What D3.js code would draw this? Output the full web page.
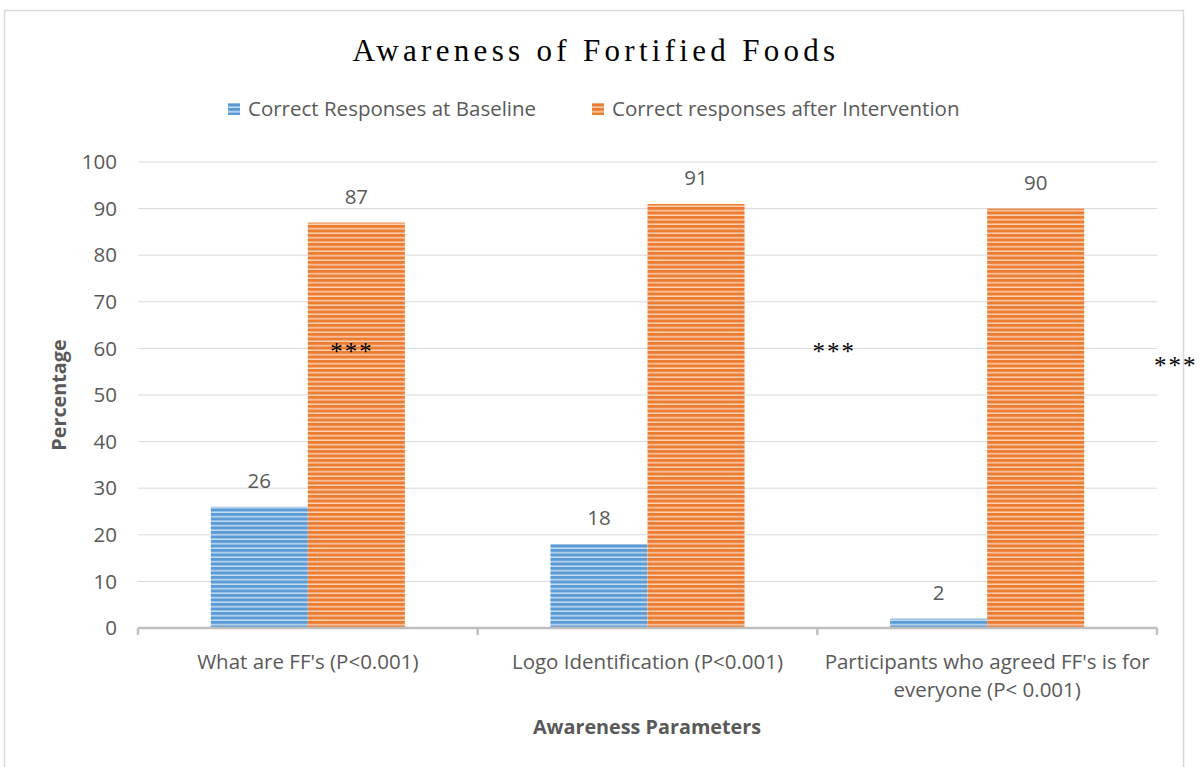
<!DOCTYPE html>
<html lang="en">
<head>
<meta charset="UTF-8">
<title>Awareness of Fortified Foods</title>
<script src="https://d3js.org/d3.v7.min.js"></script>
<style>
  body { margin: 0; background: #fff; }
  text { font-family: "Open Sans", "Noto Sans", sans-serif; fill: #595959; }
</style>
</head>
<body>
<script>
const width = 1199;
const height = 767;

// data
const categories = ["What are FF's (P<0.001)", "Logo Identification (P<0.001)", "Participants who agreed FF's is for everyone (P< 0.001)"];
const catLines = [["What are FF's (P<0.001)"], ["Logo Identification (P<0.001)"], ["Participants who agreed FF's is for", "everyone (P< 0.001)"]];
const seriesNames = ["Correct Responses at Baseline", "Correct responses after Intervention"];
const baseline = [26, 18, 2];
const afterIntervention = [87, 91, 90];
const yTicks = [0, 10, 20, 30, 40, 50, 60, 70, 80, 90, 100];
// significance stars: [category index, fraction across band, y value]
const stars = [[0, 0.63, 58], [1, 1.05, 58], [2, 1.055, 55]];

const colors = ["#5b9bd5", "#ed7d31"];
const lightColors = ["#c5dcf0", "#f9cfb3"];

const svg = d3.select("body").append("svg")
  .attr("width", width)
  .attr("height", height);

// stripe patterns
const defs = svg.append("defs");
colors.forEach((c, i) => {
  const p = defs.append("pattern")
    .attr("id", "stripe" + i)
    .attr("patternUnits", "userSpaceOnUse")
    .attr("width", 8).attr("height", 4.5);
  p.append("rect").attr("width", 8).attr("height", 4.5).attr("fill", c);
  p.append("rect").attr("y", 3).attr("width", 8).attr("height", 1.5).attr("fill", lightColors[i]);
});

// chart frame
svg.append("rect")
  .attr("x", 4.5).attr("y", 10.5)
  .attr("width", 1179).attr("height", 770)
  .attr("fill", "none").attr("stroke", "#d9d9d9").attr("stroke-width", 1.5);

const margin = { left: 138, right: 42, top: 162, bottom: 139 };
const plotW = width - margin.left - margin.right;

const x = d3.scaleBand().domain(categories).range([margin.left, margin.left + plotW]).paddingInner(0).paddingOuter(0);
const inner = d3.scaleBand().domain([0, 1]).range([0, x.bandwidth()]).paddingOuter(0.75).paddingInner(0);
const y = d3.scaleLinear().domain([0, 100]).range([height - margin.bottom, margin.top]);

// gridlines
svg.append("g")
  .selectAll("line")
  .data(yTicks.filter(d => d > 0))
  .join("line")
  .attr("x1", margin.left).attr("x2", margin.left + plotW)
  .attr("y1", d => y(d)).attr("y2", d => y(d))
  .attr("stroke", "#d9d9d9").attr("stroke-width", 1);

// y tick labels
svg.append("g")
  .selectAll("text")
  .data(yTicks)
  .join("text")
  .attr("x", 117)
  .attr("y", d => y(d))
  .attr("dy", "0.35em")
  .attr("text-anchor", "end")
  .attr("font-size", 20.5)
  .text(d => d);

// bars
const series = [baseline, afterIntervention];
series.forEach((vals, si) => {
  svg.append("g")
    .selectAll("rect")
    .data(vals)
    .join("rect")
    .attr("x", (d, i) => x(categories[i]) + inner(si))
    .attr("width", inner.bandwidth())
    .attr("y", d => y(d))
    .attr("height", d => y(0) - y(d))
    .attr("fill", "url(#stripe" + si + ")");

  svg.append("g")
    .selectAll("text")
    .data(vals)
    .join("text")
    .attr("x", (d, i) => x(categories[i]) + inner(si) + inner.bandwidth() / 2)
    .attr("y", d => y(d) - 19)
    .attr("text-anchor", "middle")
    .attr("font-size", 20.5)
    .attr("fill", "#404040")
    .text(d => d);
});

// x axis line and ticks
svg.append("line")
  .attr("x1", margin.left).attr("x2", margin.left + plotW)
  .attr("y1", y(0)).attr("y2", y(0))
  .attr("stroke", "#bfbfbf").attr("stroke-width", 2.5);

const bounds = categories.map(c => x(c)).concat([margin.left + plotW]);
svg.append("g")
  .selectAll("line")
  .data(bounds)
  .join("line")
  .attr("x1", d => d).attr("x2", d => d)
  .attr("y1", y(0)).attr("y2", y(0) + 7)
  .attr("stroke", "#bfbfbf").attr("stroke-width", 2.5);

// category labels
categories.forEach((c, i) => {
  svg.append("text")
    .attr("x", x(c) + x.bandwidth() / 2)
    .attr("y", 669)
    .attr("text-anchor", "middle")
    .attr("font-size", 20.5)
    .selectAll("tspan")
    .data(catLines[i])
    .join("tspan")
    .attr("x", x(c) + x.bandwidth() / 2)
    .attr("dy", (d, j) => j === 0 ? 0 : 28)
    .text(d => d);
});

// stars
svg.append("g")
  .selectAll("text")
  .data(stars)
  .join("text")
  .attr("x", d => x(categories[d[0]]) + d[1] * x.bandwidth())
  .attr("y", d => y(d[2]) + 2)
  .attr("text-anchor", "middle")
  .style("font-family", "'Liberation Serif', serif")
  .attr("font-size", 25)
  .style("fill", "#000")
  .attr("letter-spacing", 2)
  .text("***");

// title
svg.append("text")
  .attr("x", 596).attr("y", 61)
  .attr("text-anchor", "middle")
  .style("font-family", "'Liberation Serif', serif")
  .style("fill", "#000")
  .attr("font-size", 31)
  .attr("letter-spacing", 4.3)
  .text("Awareness of Fortified Foods");

// legend
const legendX = [228, 592];
seriesNames.forEach((n, i) => {
  svg.append("rect")
    .attr("x", legendX[i]).attr("y", 103)
    .attr("width", 12).attr("height", 12)
    .attr("fill", "url(#stripe" + i + ")");
  svg.append("text")
    .attr("x", legendX[i] + 20).attr("y", 109)
    .attr("dy", "0.35em")
    .attr("font-size", 20.5)
    .text(n);
});

// axis titles
svg.append("text")
  .attr("transform", "translate(66," + y(50) + ") rotate(-90)")
  .attr("text-anchor", "middle")
  .attr("font-size", 19.8)
  .attr("font-weight", "bold")
  .text("Percentage");

svg.append("text")
  .attr("x", 647).attr("y", 734)
  .attr("text-anchor", "middle")
  .attr("font-size", 19.8)
  .attr("font-weight", "bold")
  .text("Awareness Parameters");
</script>
</body>
</html>
